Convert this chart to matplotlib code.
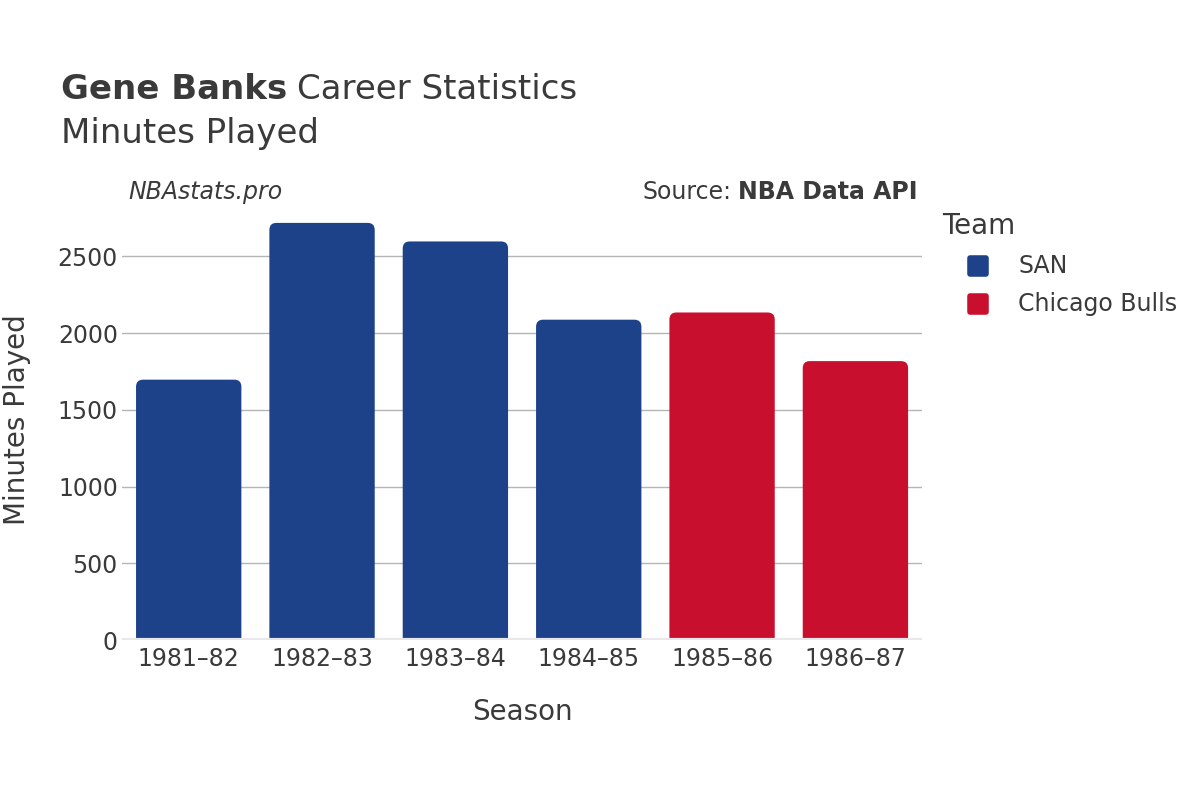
import matplotlib
matplotlib.use("Agg")
import matplotlib.pyplot as plt
from matplotlib.patches import FancyBboxPatch
from matplotlib.lines import Line2D
from matplotlib.markers import MarkerStyle

seasons = ["1981–82", "1982–83", "1983–84", "1984–85", "1985–86", "1986–87"]
minutes = [1697, 2719, 2598, 2088, 2135, 1818]
teams = ["SAN", "SAN", "SAN", "SAN", "Chicago Bulls", "Chicago Bulls"]
team_colors = {"SAN": "#1d428a", "Chicago Bulls": "#c8102e"}
yticks = [0, 500, 1000, 1500, 2000, 2500]

TXT = "#3a3a3a"
plt.rcParams['font.family'] = ['DejaVu Sans']

fig = plt.figure(figsize=(12, 8), dpi=100)
ax = fig.add_axes([0.1017, 0.2, 0.6667, 0.5485])

x = list(range(len(seasons)))
bars = ax.bar(x, minutes, width=0.79, color=[team_colors[t] for t in teams], zorder=3)
ax.set_xlim(-0.5, len(seasons) - 0.5)
ax.set_ylim(0, max(minutes) * 1.052)

# rounded tops
fig.canvas.draw()
bbox = ax.get_window_extent()
px_per_x = bbox.width / (ax.get_xlim()[1] - ax.get_xlim()[0])
px_per_y = bbox.height / (ax.get_ylim()[1] - ax.get_ylim()[0])
r_px = 7
for b in bars:
    b.set_visible(False)
    ext = r_px / px_per_y * 2
    p = FancyBboxPatch((b.get_x(), b.get_y() - ext), b.get_width(), b.get_height() + ext,
                       boxstyle=f"round,pad=0,rounding_size={r_px / px_per_x}",
                       mutation_aspect=px_per_x / px_per_y,
                       facecolor=b.get_facecolor(), edgecolor="none", zorder=3)
    ax.add_patch(p)
    p.set_clip_path(ax.patch)

ax.set_yticks(yticks)
ax.set_xticks(x)
ax.set_xticklabels(seasons)
ax.yaxis.grid(True, color="#b5b5b5", linewidth=1, zorder=0)
ax.axhline(0, color="#e8e8ea", linewidth=3, zorder=4)
for s in ax.spines.values():
    s.set_visible(False)
ax.tick_params(axis="both", length=0, labelsize=17, colors=TXT)
ax.tick_params(axis="y", pad=3)
ax.tick_params(axis="x", pad=5)
ax.set_ylabel("Minutes Played", fontsize=20, color=TXT)
ax.set_xlabel("Season", fontsize=20, color=TXT)
ax.yaxis.set_label_coords(-(122 - 17) / bbox.width, (640 - 420) / bbox.height)
ax.xaxis.set_label_coords((522 - 122) / bbox.width, -(712 - 640) / bbox.height)
ax.yaxis.label.set_va("center")
ax.xaxis.label.set_va("center")

t1 = fig.text(61 / 1200, 1 - 99 / 800, "Gene Banks", fontsize=24.5, fontweight="bold", color=TXT, va="baseline")
fig.canvas.draw()
tb = t1.get_window_extent()
fig.text(tb.x1 / 1200 + 0.008, 1 - 99 / 800, "Career Statistics", fontsize=24.5, color=TXT, va="baseline")
fig.text(61 / 1200, 1 - 143 / 800, "Minutes Played", fontsize=24.5, color=TXT, va="baseline")

fig.text(128 / 1200, 1 - 192 / 800, "NBAstats.pro", fontsize=17, style="italic", color=TXT, va="center")
src = fig.text(918 / 1200, 1 - 192 / 800, "NBA Data API", fontsize=17, fontweight="bold", color=TXT,
               va="center", ha="right")
fig.canvas.draw()
sb = src.get_window_extent()
fig.text(sb.x0 / 1200 - 0.006, 1 - 192 / 800, "Source:", fontsize=17, color=TXT, va="center", ha="right")

# legend
fig.text(942 / 1200, 1 - 226 / 800, "Team", fontsize=20, color=TXT, va="center")
for i, t in enumerate(["SAN", "Chicago Bulls"]):
    yy = 1 - (266 + 38 * i) / 800
    fig.add_artist(Line2D([978 / 1200], [yy], marker=MarkerStyle("s", joinstyle="round"),
                          linestyle="none", markersize=12, markeredgewidth=4,
                          markerfacecolor=team_colors[t], markeredgecolor=team_colors[t],
                          transform=fig.transFigure))
    fig.text(1018 / 1200, yy, t, fontsize=17, color=TXT, va="center")

fig.savefig("out.png", dpi=100, facecolor="white")
